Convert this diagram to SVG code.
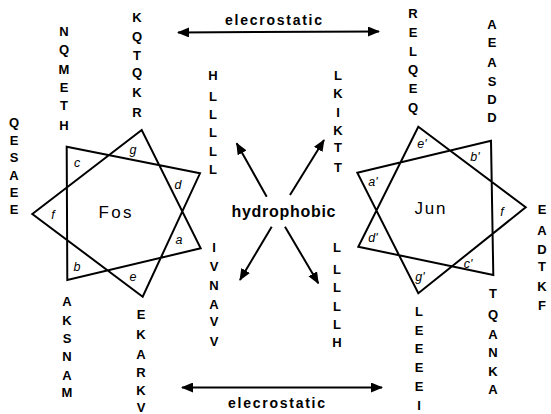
<svg xmlns="http://www.w3.org/2000/svg" width="551" height="414" viewBox="0 0 551 414">
<defs>
<marker id="ah" viewBox="0 0 12 10" refX="11" refY="5" markerWidth="12" markerHeight="10" markerUnits="userSpaceOnUse" orient="auto-start-reverse">
<path d="M0,0 L12,5 L0,10 Z" fill="#000"/>
</marker>
</defs>
<style>
.star{fill:none;stroke:#000;stroke-width:2;stroke-linejoin:miter}
.res{font-family:"Liberation Sans",Arial,sans-serif;font-weight:bold;font-size:13px;text-anchor:middle;fill:#000}
.pos{font-family:"Liberation Sans",Arial,sans-serif;font-style:italic;font-size:12.5px;text-anchor:middle;fill:#000}
.name{font-family:"Liberation Sans",Arial,sans-serif;font-size:17px;text-anchor:middle;fill:#000}
.lbl{font-family:"Liberation Sans",Arial,sans-serif;font-weight:bold;font-size:14px;text-anchor:middle;fill:#000}
.hyd{font-family:"Liberation Sans",Arial,sans-serif;font-weight:bold;font-size:16px;text-anchor:middle;fill:#000}
.arr{stroke:#000;stroke-width:2;fill:none}
</style>
<rect width="551" height="414" fill="#fff"/>

<g id="fos">
<path class="star" d="M32.3,214 L141.7,130 L200.7,248.3 L67.3,280 L66.7,146.7 L200,173.3 L142.7,296.7 Z"/>
<text class="name" x="115" y="218" textLength="33" lengthAdjust="spacing">Fos</text>
<text class="pos" x="77" y="167">c</text>
<text class="pos" x="133" y="154">g</text>
<text class="pos" x="178" y="189">d</text>
<text class="pos" x="179" y="244">a</text>
<text class="pos" x="133" y="281">e</text>
<text class="pos" x="77" y="271">b</text>
<text class="pos" x="53" y="219">f</text>
</g>

<g id="jun">
<path class="star" d="M357.3,172.7 L491,140.7 L493.3,275 L358.3,246.7 L418.3,126.7 L525.7,207.3 L418.3,293.3 Z"/>
<text class="name" x="430" y="214" textLength="31" lengthAdjust="spacing">Jun</text>
<text class="pos" x="422" y="148">e'</text>
<text class="pos" x="475" y="161">b'</text>
<text class="pos" x="373" y="186">a'</text>
<text class="pos" x="502" y="216">f</text>
<text class="pos" x="373" y="242">d'</text>
<text class="pos" x="468" y="268">c'</text>
<text class="pos" x="420" y="281">g'</text>
</g>

<g id="fos-residues">
<text class="res" x="14" y="127">Q</text><text class="res" x="14" y="145">E</text><text class="res" x="14" y="162">S</text><text class="res" x="14" y="180">A</text><text class="res" x="14" y="197">E</text><text class="res" x="14" y="214">E</text>
<text class="res" x="64" y="36">N</text><text class="res" x="64" y="54">Q</text><text class="res" x="64" y="74">M</text><text class="res" x="64" y="92">E</text><text class="res" x="64" y="110">T</text><text class="res" x="64" y="130">H</text>
<text class="res" x="137" y="22">K</text><text class="res" x="137" y="41">Q</text><text class="res" x="137" y="60">T</text><text class="res" x="137" y="77">Q</text><text class="res" x="137" y="97">K</text><text class="res" x="137" y="117">R</text>
<text class="res" x="213" y="80">H</text><text class="res" x="213" y="101">L</text><text class="res" x="213" y="119">L</text><text class="res" x="213" y="137">L</text><text class="res" x="213" y="156">L</text><text class="res" x="213" y="174">L</text>
<text class="res" x="214" y="252">I</text><text class="res" x="214" y="271">V</text><text class="res" x="214" y="290">N</text><text class="res" x="214" y="309">A</text><text class="res" x="214" y="326">V</text><text class="res" x="214" y="346">V</text>
<text class="res" x="67" y="306">A</text><text class="res" x="67" y="325">K</text><text class="res" x="67" y="343">S</text><text class="res" x="67" y="361">N</text><text class="res" x="67" y="380">A</text><text class="res" x="67" y="397">M</text>
<text class="res" x="141" y="319">E</text><text class="res" x="141" y="339">K</text><text class="res" x="141" y="359">A</text><text class="res" x="141" y="377">R</text><text class="res" x="141" y="395">K</text><text class="res" x="141" y="412">V</text>
</g>

<g id="jun-residues">
<text class="res" x="338" y="80">L</text><text class="res" x="338" y="98">K</text><text class="res" x="338" y="117">I</text><text class="res" x="338" y="135">K</text><text class="res" x="338" y="152">T</text><text class="res" x="338" y="172">T</text>
<text class="res" x="337" y="252">L</text><text class="res" x="337" y="274">L</text><text class="res" x="337" y="292">L</text><text class="res" x="337" y="311">L</text><text class="res" x="337" y="329">L</text><text class="res" x="337" y="347">H</text>
<text class="res" x="413" y="18">R</text><text class="res" x="413" y="37">E</text><text class="res" x="413" y="56">L</text><text class="res" x="413" y="74">Q</text><text class="res" x="413" y="93">E</text><text class="res" x="413" y="112">Q</text>
<text class="res" x="492" y="29">A</text><text class="res" x="492" y="47">E</text><text class="res" x="492" y="67">A</text><text class="res" x="492" y="86">S</text><text class="res" x="492" y="104">D</text><text class="res" x="492" y="122">D</text>
<text class="res" x="542" y="214">E</text><text class="res" x="542" y="235">A</text><text class="res" x="542" y="254">D</text><text class="res" x="542" y="271">T</text><text class="res" x="542" y="291">K</text><text class="res" x="542" y="310">F</text>
<text class="res" x="419" y="316">L</text><text class="res" x="419" y="335">E</text><text class="res" x="419" y="353">E</text><text class="res" x="419" y="372">E</text><text class="res" x="419" y="391">E</text><text class="res" x="419" y="410">I</text>
<text class="res" x="493" y="298">T</text><text class="res" x="493" y="319">Q</text><text class="res" x="493" y="339">A</text><text class="res" x="493" y="357">N</text><text class="res" x="493" y="376">K</text><text class="res" x="493" y="394">A</text>
</g>

<g id="connectors">
<line class="arr" x1="178" y1="32.5" x2="379" y2="31.5" marker-start="url(#ah)" marker-end="url(#ah)"/>
<line class="arr" x1="182" y1="387.5" x2="382" y2="387.5" marker-start="url(#ah)" marker-end="url(#ah)"/>
<line class="arr" x1="266.7" y1="196.7" x2="236.7" y2="143.3" marker-end="url(#ah)"/>
<line class="arr" x1="290" y1="195" x2="324" y2="140" marker-end="url(#ah)"/>
<line class="arr" x1="271.7" y1="226.7" x2="240" y2="280" marker-end="url(#ah)"/>
<line class="arr" x1="285" y1="226.7" x2="318.3" y2="283.3" marker-end="url(#ah)"/>
</g>

<g id="labels">
<text class="lbl" x="273.5" y="25" textLength="97" lengthAdjust="spacing">elecrostatic</text>
<text class="lbl" x="276.5" y="408" textLength="97" lengthAdjust="spacing">elecrostatic</text>
<text class="hyd" x="283.5" y="217" textLength="104" lengthAdjust="spacing">hydrophobic</text>
</g>
</svg>
